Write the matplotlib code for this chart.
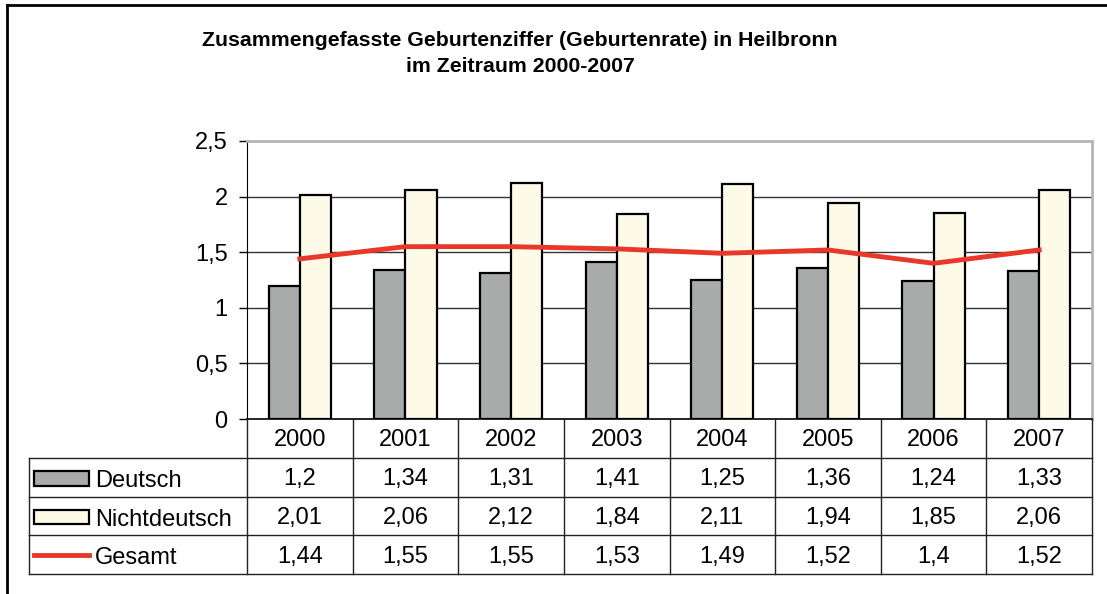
"""
Zusammengefasste Geburtenziffer Heilbronn 2000-2007 (Excel-style chart with data table)
"""

import matplotlib

matplotlib.use("Agg")
import matplotlib.pyplot as plt
import numpy as np
from matplotlib.patches import Rectangle

plt.rcParams["font.family"] = ["Liberation Sans", "DejaVu Sans"]

years = ["2000", "2001", "2002", "2003", "2004", "2005", "2006", "2007"]
deutsch = [1.2, 1.34, 1.31, 1.41, 1.25, 1.36, 1.24, 1.33]
nichtdeutsch = [2.01, 2.06, 2.12, 1.84, 2.11, 1.94, 1.85, 2.06]
gesamt = [1.44, 1.55, 1.55, 1.53, 1.49, 1.52, 1.4, 1.52]
yticks = [0, 0.5, 1, 1.5, 2, 2.5]

W, H = 1107, 594
GRAY = "#A9AAAA"
CREAM = "#FDFBE8"
RED = "#E8382A"
FS = 17


def fx(px):
    return px / W


def fy(py):
    return 1 - py / H


fig = plt.figure(figsize=(W / 100, H / 100), dpi=100)

# plot area in pixels
left, right, top, bottom = 247, 1092, 141, 419
ax = fig.add_axes([fx(left), fy(bottom), fx(right - left), (bottom - top) / H])
x = np.arange(len(years))
bw = 0.295
ax.bar(x - bw / 2, deutsch, bw, color=GRAY, edgecolor="black", linewidth=1.6, zorder=3)
ax.bar(x + bw / 2, nichtdeutsch, bw, color=CREAM, edgecolor="black", linewidth=1.6, zorder=3)
ax.plot(x, gesamt, color=RED, linewidth=3.5, zorder=4, solid_joinstyle="miter")
ax.set_xlim(-0.5, len(years) - 0.5)
ax.set_ylim(0, 2.5)
ax.set_yticks(yticks)
ax.set_yticklabels([f"{v:g}".replace(".", ",") for v in yticks], fontsize=FS)
ax.set_xticks([])
for v in yticks[1:-1]:
    ax.axhline(v, color="#333333", linewidth=1.0, zorder=1)
ax.tick_params(axis="y", length=6, width=1, pad=8, direction="out")
ax.spines["left"].set_color("black")
ax.spines["bottom"].set_color("black")
ax.spines["top"].set_color("#B4B4B4")
ax.spines["right"].set_color("#B4B4B4")
ax.spines["top"].set_linewidth(2)
ax.spines["right"].set_linewidth(2)
ax.spines["bottom"].set_linewidth(1.2)

# data table below the plot, sharing x positions
tab_bottom = 574
tax = fig.add_axes([fx(left), fy(tab_bottom), fx(right - left), (tab_bottom - bottom) / H])
tax.set_xlim(-0.5, len(years) - 0.5)
tax.set_ylim(4, 0)
tax.axis("off")
cat_px = (right - left) / len(years)
x_lab = -0.5 - (left - 29) / cat_px
lc = "#222222"
for r in [1, 2, 3, 4]:
    tax.plot([x_lab, len(years) - 0.5], [r, r], color=lc, linewidth=1.0, clip_on=False)
for c in np.arange(-0.5, len(years), 1.0):
    tax.plot([c, c], [0, 4], color=lc, linewidth=1.0, clip_on=False)
tax.plot([x_lab, x_lab], [1, 4], color=lc, linewidth=1.0, clip_on=False)

for i, yr in enumerate(years):
    tax.text(i, 0.54, yr, ha="center", va="center", fontsize=FS)
rows = [deutsch, nichtdeutsch, gesamt]
for r, vals in enumerate(rows):
    for i, v in enumerate(vals):
        tax.text(i, r + 1.56, f"{v:g}".replace(".", ","), ha="center", va="center", fontsize=FS)

# legend keys inside the row headers
kx0 = x_lab + 5 / cat_px
kw = 55 / cat_px
tx = x_lab + 66 / cat_px
tax.add_patch(Rectangle((kx0, 1.34), kw, 0.38, facecolor=GRAY, edgecolor="black",
                        linewidth=1.6, clip_on=False))
tax.add_patch(Rectangle((kx0, 2.34), kw, 0.38, facecolor=CREAM, edgecolor="black",
                        linewidth=1.6, clip_on=False))
tax.plot([kx0, kx0 + kw], [3.52, 3.52], color=RED, linewidth=3.5, clip_on=False)
for r, name in enumerate(["Deutsch", "Nichtdeutsch", "Gesamt"]):
    tax.text(tx, r + 1.6, name, ha="left", va="center", fontsize=FS)

# title
fig.text(fx(520), fy(40), "Zusammengefasste Geburtenziffer (Geburtenrate) in Heilbronn",
         ha="center", va="center", fontsize=15.3, fontweight="bold")
fig.text(fx(520), fy(67), "im Zeitraum 2000-2007",
         ha="center", va="center", fontsize=15.3, fontweight="bold")

# outer chart frame
fig.add_artist(plt.Line2D([fx(7), fx(7)], [fy(5), 0], color="black", linewidth=2.0))
fig.add_artist(plt.Line2D([fx(7), 1], [fy(5), fy(5)], color="black", linewidth=2.0))

fig.savefig("out.png", dpi=100)
